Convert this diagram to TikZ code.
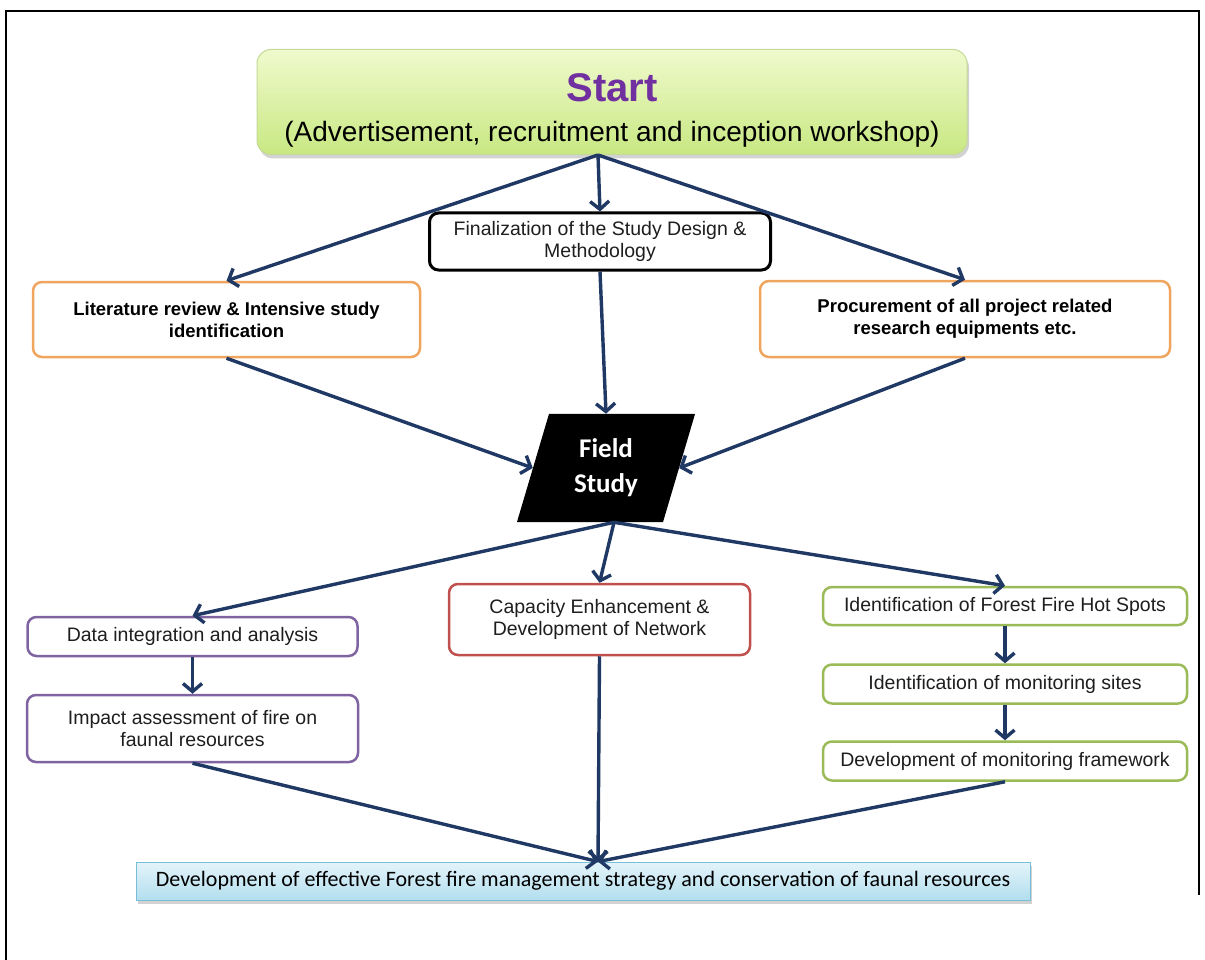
\documentclass[tikz,border=0pt]{standalone}
\usepackage{fontspec}
\setmainfont{Liberation Sans}
\newfontfamily\calibri{Carlito}
\usetikzlibrary{shapes.geometric,arrows.meta,shadows}
\definecolor{arrowblue}{RGB}{31,56,100}
\definecolor{startpurple}{RGB}{112,48,160}
\definecolor{startline}{RGB}{196,218,150}
\definecolor{starttop}{RGB}{240,250,205}
\definecolor{startbot}{RGB}{200,232,130}
\definecolor{boxorange}{RGB}{240,165,95}
\definecolor{boxpurple}{RGB}{128,100,162}
\definecolor{boxred}{RGB}{192,80,77}
\definecolor{boxgreen}{RGB}{155,187,89}
\definecolor{endline}{RGB}{120,190,215}
\definecolor{endtop}{RGB}{228,244,250}
\definecolor{endbot}{RGB}{178,222,238}
\definecolor{txt}{RGB}{30,30,30}
\tikzset{
  box/.style={draw, rounded corners=9pt, line width=2.5pt, align=center, inner sep=0pt,
    fill=white, text=txt, font=\fontsize{19.5}{22.5}\selectfont},
  blackbox/.style={box, draw=black, line width=3pt},
  orangebox/.style={box, draw=boxorange, font=\bfseries\fontsize{18.5}{22}\selectfont, text=black},
  purplebox/.style={box, draw=boxpurple},
  redbox/.style={box, draw=boxred},
  greenbox/.style={box, draw=boxgreen},
  arr/.style={draw=arrowblue, line width=3.4pt, -{Straight Barb[length=8pt,width=19pt]}},
}
\begin{document}
\begin{tikzpicture}[x=1pt,y=-1pt]
\useasboundingbox[fill=white] (0,0) rectangle (1205,960);
% frame
\draw[line width=2.5pt] (6,960) -- (6,11) -- (1199,11) -- (1199,895);

% top
\node[draw=startline, line width=1pt, rounded corners=14pt, top color=starttop, bottom color=startbot,
  drop shadow={opacity=0.35,shadow xshift=2pt,shadow yshift=-4pt},
  minimum width=710pt, minimum height=105pt, align=center, inner sep=0pt,
  font=\fontsize{28}{40}\selectfont] (start) at (612,102)
  {\rule{0pt}{45pt}{\color{startpurple}\bfseries\fontsize{40}{44}\selectfont Start}\\
   (Advertisement, recruitment and inception workshop)};
\coordinate (start-out) at ([xshift=-14pt]start.south);

\node[blackbox, minimum width=341pt, minimum height=57pt] (design) at (600,241.5)
  {Finalization of the Study Design \&\\Methodology};
\node[orangebox, minimum width=387pt, minimum height=75pt] (lit) at (226.5,319.5)
  {Literature review \& Intensive study\\identification};
\node[orangebox, minimum width=410pt, minimum height=76pt] (proc) at (965,319)
  {Procurement of all project related\\research equipments etc.};

% field study
\node[trapezium, trapezium left angle=73.5, trapezium right angle=106.5, fill=black,
  text width=84pt, align=center, inner xsep=15pt, inner ysep=25pt,
  font=\calibri\bfseries\fontsize{27}{35}\selectfont, text=white] (field) at (606,468)
  {Field\\Study};

\draw[arr] (start-out) -- (design.north);
\draw[arr] (start-out) -- (lit.north);
\draw[arr] (start-out) -- (proc.north);
\draw[arr] (design.south) -- (field.north);
\draw[arr] (lit.south) -- (field.west);
\draw[arr] (proc.south) -- (field.east);

% lower part
\node[purplebox, minimum width=330pt, minimum height=39pt] (data) at (192.5,636.5)
  {Data integration and analysis};
\node[purplebox, minimum width=331pt, minimum height=67pt] (impact) at (192.5,728.5)
  {Impact assessment of fire on\\faunal resources};
\node[redbox, minimum width=301pt, minimum height=71pt] (cap) at (599.5,619.5)
  {Capacity Enhancement \&\\Development of Network};
\node[greenbox, minimum width=364pt, minimum height=38pt] (hot) at (1005,606)
  {Identification of Forest Fire Hot Spots};
\node[greenbox, minimum width=364pt, minimum height=39pt] (sites) at (1005,684)
  {Identification of monitoring sites};
\node[greenbox, minimum width=364pt, minimum height=39pt] (frmwk) at (1005,761)
  {Development of monitoring framework};

\node[draw=endline, line width=0.8pt, top color=endtop, bottom color=endbot,
  drop shadow={opacity=0.35,shadow xshift=2pt,shadow yshift=-4pt},
  minimum width=894pt, minimum height=38pt, inner sep=0pt, text=black,
  font=\calibri\fontsize{22}{24}\selectfont] (final) at (583,881)
  {Development of effective Forest fire management strategy and conservation of faunal resources};
\coordinate (final-in) at ([xshift=15pt]final.north);

\coordinate (field-out) at ([xshift=8pt]field.south);
\draw[arr] (field-out) -- (data.north);
\draw[arr] (field-out) -- (cap.north);
\draw[arr] (field-out) -- (hot.north);
\draw[arr] (data) -- (impact);
\draw[arr] (hot) -- (sites);
\draw[arr] (sites) -- (frmwk);
\draw[arr] (impact.south) -- (final-in);
\draw[arr] (cap.south) -- (final-in);
\draw[arr] (frmwk.south) -- (final-in);
\end{tikzpicture}
\end{document}
